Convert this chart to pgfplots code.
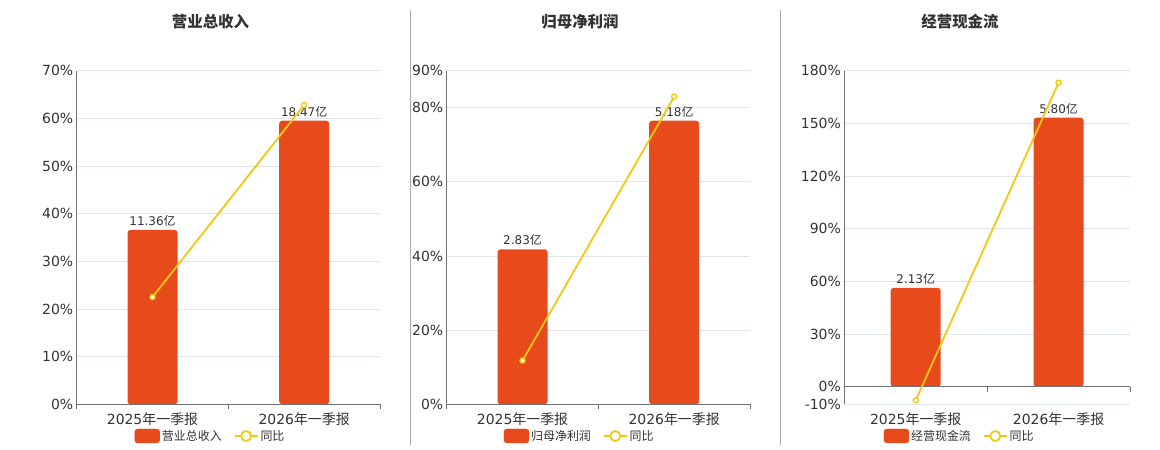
\documentclass[border=0pt]{standalone}
\usepackage{fontspec}
\setmainfont{DejaVu Sans}
\newfontfamily\cjk{Noto Sans CJK SC}
\usepackage{pgfplots}
\pgfplotsset{compat=1.18}
\definecolor{barc}{HTML}{E84B1B}
\definecolor{linec}{HTML}{F2C811}
\definecolor{gridc}{HTML}{E0E6F1}
\definecolor{axisc}{HTML}{6E7079}
\definecolor{txt}{HTML}{333333}
\definecolor{sepc}{HTML}{AAAAAA}
\newcommand{\zh}[1]{{\cjk #1}}
\pgfplotsset{
  panel/.style={scale only axis, height=333.6bp, xmin=-0.5, xmax=1.5, clip=false},
  gridaxis/.style={panel,
    axis x line*=bottom, axis y line*=left,
    axis line style={draw=axisc, line width=1bp},
    x axis line style={-, line width=1.5bp},
    y axis line style={-},
    ymajorgrids, grid style={draw=gridc, line width=0.8bp},
    xtick={0,1}, xticklabels={2025\zh{年一季报},2026\zh{年一季报}},
    tick style={draw=none},
    ticklabel style={font=\fontsize{14}{16}\selectfont, text=txt},
    xticklabel style={yshift=-5bp},
  },
  baraxis/.style={panel, hide axis, ybar, bar width=50bp,
    nodes near coords={\pgfmathprintnumber[fixed, fixed zerofill, precision=2, assume math mode=true]{\pgfplotspointmeta}\zh{亿}},
    every node near coord/.append style={font=\fontsize{12}{14}\selectfont, text=txt},
  },
  lineaxis/.style={panel, hide axis,
    legend columns=2,
    legend style={draw=none, fill=none, font=\fontsize{12}{14}\selectfont, text=txt, anchor=center,
      /tikz/every even column/.append style={column sep=10bp}},
    legend cell align=left,
  },
  barlegend/.style={legend image code/.code={\fill[barc, rounded corners=3bp] (0bp,-7bp) rectangle (25bp,7bp);}},
  linestyle/.style={linec, line width=1.8bp, mark=*, mark size=2.6bp,
    mark options={fill=white, draw=linec, line width=1.3bp},
    legend image code/.code={\draw[linec, line width=1.8bp] (0bp,0bp) -- (23bp,0bp);
      \draw[linec, fill=white, line width=1.8bp] (11.5bp,0bp) circle (5bp);}},
  xaxisticks/.style={},
}
\newcommand{\catticks}{%
  \draw[axisc, line width=1.5bp] (axis cs:-0.5,0) -- (axis cs:1.5,0);
  \draw[axisc, line width=1bp] (axis cs:-0.5,0) -- ([yshift=-5bp]axis cs:-0.5,0);
  \draw[axisc, line width=1bp] (axis cs:0.5,0) -- ([yshift=-5bp]axis cs:0.5,0);
  \draw[axisc, line width=1bp] (axis cs:1.5,0) -- ([yshift=-5bp]axis cs:1.5,0);
}
\begin{document}
\begin{tikzpicture}[x=1bp, y=1bp]
\useasboundingbox (0,0) rectangle (1160,450);
\fill[white] (0,0) rectangle (1160,450);
\draw[sepc, line width=1bp] (410.5,5) -- (410.5,440);
\draw[sepc, line width=1bp] (780.5,5) -- (780.5,440);
\node[text=txt, font=\cjk\bfseries\fontsize{15.5}{18}\selectfont] at (210.5,428) {营业总收入};
\node[text=txt, font=\cjk\bfseries\fontsize{15.5}{18}\selectfont] at (580,428) {归母净利润};
\node[text=txt, font=\cjk\bfseries\fontsize{15.5}{18}\selectfont] at (960,428) {经营现金流};

% ---------- Panel 1 ----------
\begin{axis}[gridaxis, width=303.3bp, at={(76.7bp,45.7bp)}, anchor=south west,
  ymin=0, ymax=70, ytick={0,10,20,30,40,50,60,70},
  yticklabels={0\%,10\%,20\%,30\%,40\%,50\%,60\%,70\%}]
\end{axis}
\begin{axis}[baraxis, width=303.3bp, at={(76.7bp,45.7bp)}, anchor=south west,
  ymin=0, ymax=21.73]
\addplot[fill=barc, draw=none, rounded corners=3bp] coordinates {(0,11.36) (1,18.47)};
\end{axis}
\begin{axis}[lineaxis, width=303.3bp, at={(76.7bp,45.7bp)}, anchor=south west,
  ymin=0, ymax=70, legend style={at={(0.4411,-0.095)}}]
\catticks
\addlegendimage{barlegend}
\addlegendentry{\zh{营业总收入}}
\addplot[linestyle] coordinates {(0,22.5) (1,62.8)};
\addlegendentry{\zh{同比}}
\end{axis}

% ---------- Panel 2 ----------
\begin{axis}[gridaxis, width=303.3bp, at={(446.7bp,45.7bp)}, anchor=south west,
  ymin=0, ymax=90, ytick={0,20,40,60,80,90},
  yticklabels={0\%,20\%,40\%,60\%,80\%,90\%}]
\end{axis}
\begin{axis}[baraxis, width=303.3bp, at={(446.7bp,45.7bp)}, anchor=south west,
  ymin=0, ymax=6.093]
\addplot[fill=barc, draw=none, rounded corners=3bp] coordinates {(0,2.83) (1,5.18)};
\end{axis}
\begin{axis}[lineaxis, width=303.3bp, at={(446.7bp,45.7bp)}, anchor=south west,
  ymin=0, ymax=90, legend style={at={(0.4385,-0.095)}}]
\catticks
\addlegendimage{barlegend}
\addlegendentry{\zh{归母净利润}}
\addplot[linestyle] coordinates {(0,11.8) (1,83.0)};
\addlegendentry{\zh{同比}}
\end{axis}

% ---------- Panel 3 ----------
\begin{axis}[gridaxis, width=285.7bp, at={(844.3bp,45.7bp)}, anchor=south west,
  x axis line style={draw=gridc, line width=0.8bp},
  ymin=-10, ymax=180, ytick={-10,0,30,60,90,120,150,180},
  yticklabels={-10\%,0\%,30\%,60\%,90\%,120\%,150\%,180\%}]
\end{axis}
\begin{axis}[baraxis, width=285.7bp, at={(844.3bp,45.7bp)}, anchor=south west,
  ymin=-0.3795, ymax=6.813]
\addplot[fill=barc, draw=none, rounded corners=3bp] coordinates {(0,2.13) (1,5.80)};
\end{axis}
\begin{axis}[lineaxis, width=285.7bp, at={(844.3bp,45.7bp)}, anchor=south west,
  ymin=-10, ymax=180, legend style={at={(0.4039,-0.095)}}]
\catticks
\addlegendimage{barlegend}
\addlegendentry{\zh{经营现金流}}
\addplot[linestyle] coordinates {(0,-7.75) (1,173.2)};
\addlegendentry{\zh{同比}}
\end{axis}
\end{tikzpicture}
\end{document}
